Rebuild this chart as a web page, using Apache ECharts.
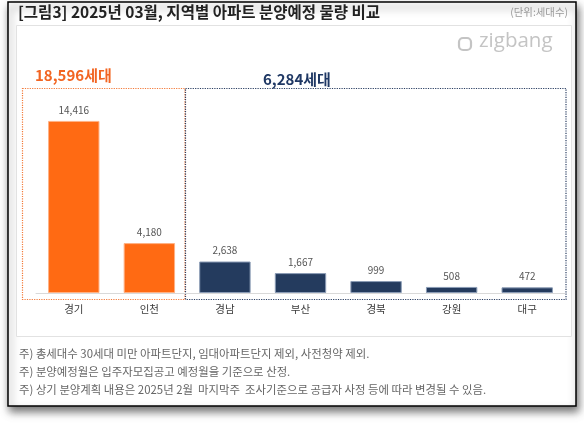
<!DOCTYPE html>
<html><head><meta charset="utf-8">
<script src="https://cdn.jsdelivr.net/npm/echarts@6/dist/echarts.min.js"></script>
<style>html,body{margin:0;padding:0;background:#fff}#c{width:584px;height:423px}</style>
</head><body><div id="c"></div>
<script>
const categories = ['경기','인천','경남','부산','경북','강원','대구'];
const values = [14416, 4180, 2638, 1667, 999, 508, 472];
const groupA = [0, 1];            // 수도권 (orange)
const groupB = [2, 3, 4, 5, 6];   // 지방 (navy)
const notes = [
  '주) 총세대수 30세대 미만 아파트단지, 임대아파트단지 제외, 사전청약 제외.',
  '주) 분양예정월은 입주자모집공고 예정월을 기준으로 산정.',
  '주) 상기 분양계획 내용은 2025년 2월  마지막주  조사기준으로 공급자 사정 등에 따라 변경될 수 있음.'
];
const FONT = '"Noto Sans CJK KR", "Noto Sans", sans-serif';
const ORANGE = '#FF6A13', NAVY = '#243B5E';
const sum = idx => idx.reduce((s, i) => s + values[i], 0);
const fmt = v => v.toLocaleString('en-US');

const chart = echarts.init(document.getElementById('c'), null, {renderer: 'canvas'});
chart.setOption({
  animation: false,
  backgroundColor: '#fff',
  grid: {left: 36, right: 19, top: 102, bottom: 130},
  xAxis: {
    type: 'category', data: categories,
    axisLine: {lineStyle: {color: '#d9d9d9', width: 1}},
    axisTick: {show: false},
    axisLabel: {color: '#3a3a3a', fontSize: 10.5, fontFamily: FONT, margin: 11}
  },
  yAxis: {type: 'value', min: 0, max: 16000, show: false, splitLine: {show: false}},
  series: [{
    type: 'bar', barWidth: '68%',
    data: values.map((v, i) => ({
      value: v,
      itemStyle: groupA.includes(i)
        ? {color: ORANGE, borderColor: '#ffb184', borderWidth: 1}
        : {color: NAVY, borderColor: '#8a9bb5', borderWidth: 1}
    })),
    label: {show: true, position: 'top', distance: 6, color: '#555', fontSize: 10,
            fontFamily: FONT, formatter: p => fmt(p.value)}
  }],
  graphic: [
    {type: 'rect', z: -10, shape: {x: 8, y: 2, width: 568, height: 404},
     style: {fill: '#fff', stroke: '#000', lineWidth: 1.5, shadowBlur: 8, shadowOffsetX: 2, shadowOffsetY: 5, shadowColor: 'rgba(0,0,0,0.55)'}},
    {type: 'rect', z: -9, shape: {x: 16.5, y: 25.5, width: 555, height: 311},
     style: {fill: '#fff', stroke: '#e2e2e2', lineWidth: 1}},
    {type: 'text', left: 18, top: 4, style: {text: '[그림3] 2025년 03월, 지역별 아파트 분양예정 물량 비교', fill: '#222', font: 'bold 15.5px ' + FONT}},
    {type: 'text', right: 16, top: 7, style: {text: '(단위:세대수)', fill: '#999', font: '10.4px ' + FONT}},
    // zigbang logo (text mark)
    {type: 'rect', shape: {x: 459, y: 38, width: 12, height: 12, r: 4},
     style: {fill: 'none', stroke: '#c4c4c4', lineWidth: 2.2}},
    {type: 'text', left: 479, top: 31, style: {text: 'zigbang', fill: '#c4c4c4', font: '20.5px "Open Sans", sans-serif'}},
    // group boxes
    {type: 'rect', shape: {x: 22.5, y: 88.5, width: 162.5, height: 211},
     style: {fill: 'none', stroke: '#F37B3A', lineWidth: 1.2, lineDash: [1.2, 1.2]}},
    {type: 'rect', shape: {x: 185.5, y: 88.5, width: 380.5, height: 211},
     style: {fill: 'none', stroke: '#2b3f63', lineWidth: 1.2, lineDash: [1.2, 1.2]}},
    {type: 'text', left: 35, top: 68, style: {text: fmt(sum(groupA)) + '세대', fill: '#F26522', font: 'bold 15px ' + FONT}},
    {type: 'text', left: 263, top: 72, style: {text: fmt(sum(groupB)) + '세대', fill: '#1f3864', font: 'bold 15px ' + FONT}},
    ...notes.map((t, i) => ({type: 'text', left: 19, top: 348 + i * 18,
      style: {text: t, fill: '#666', font: '11.4px ' + FONT}}))
  ]
});
</script></body></html>
